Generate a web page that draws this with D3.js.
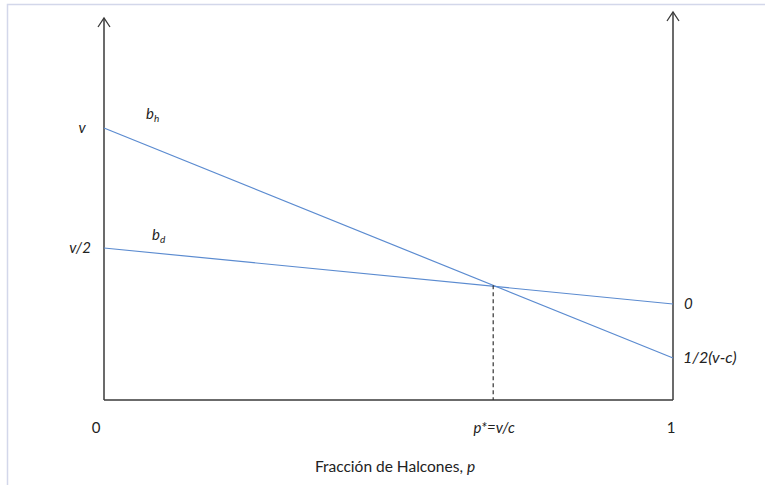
<!DOCTYPE html>
<html>
<head>
<meta charset="utf-8">
<script src="https://cdn.jsdelivr.net/npm/d3@7/dist/d3.min.js"></script>
<style>
  html, body { margin: 0; padding: 0; background: #ffffff; }
  svg { display: block; }
  text { font-family: Lato, "Open Sans", "Liberation Sans", sans-serif; fill: #222; }
</style>
</head>
<body>
<svg id="chart" width="765" height="485"></svg>
<script>
// ---- data (arbitrary payoff units; 0 = horizontal axis) ----
const pValues = [0, 1];              // fraction of hawks at both ends
const hawkPayoff = [6.8, 1.05];      // b_h at p=0 and p=1
const dovePayoff = [3.8, 2.4];       // b_d at p=0 and p=1
const pStar = 0.684;                 // p* = v/c
const leftAxisTop = 9.55;
const rightAxisTop = 9.7;
const leftLabels = ["v", "v/2"];
const rightLabels = ["0", "1/2(v-c)"];
const xTickLabels = ["0", "p*=v/c", "1"];
const xTitle = "Fracción de Halcones, ";
const seriesNames = ["h", "d"];

const svg = d3.select("#chart");
const x = d3.scaleLinear().domain([0, 1]).range([104, 673]);
const y = d3.scaleLinear().domain([0, 10]).range([400, 0]);

// frame border
svg.append("path")
  .attr("d", `M7.5,485 V4.5 H765`)
  .attr("fill", "none").attr("stroke", "#d3d7ea").attr("stroke-width", 1.5);

const axisColor = "#3a3a3a";
const lineColor = "#5b8bd0";

// axes
const axes = svg.append("g").attr("stroke", axisColor).attr("fill", "none").attr("stroke-width", 1.5);
axes.append("line").attr("x1", x(0)).attr("x2", x(1)).attr("y1", y(0)).attr("y2", y(0));
axes.append("line").attr("x1", x(0)).attr("x2", x(0)).attr("y1", y(0)).attr("y2", y(leftAxisTop));
axes.append("line").attr("x1", x(1)).attr("x2", x(1)).attr("y1", y(0)).attr("y2", y(rightAxisTop));
// arrowheads (open chevrons)
[[x(0), y(leftAxisTop)], [x(1), y(rightAxisTop)]].forEach(([ax, ay]) => {
  axes.append("path")
    .attr("d", `M${ax - 6},${ay + 9} L${ax},${ay} L${ax + 6},${ay + 9}`)
    .attr("stroke-width", 1.3);
});

// payoff lines
const line = d3.line().x(d => x(d[0])).y(d => y(d[1]));
[hawkPayoff, dovePayoff].forEach(vals => {
  svg.append("path")
    .datum(pValues.map((p, i) => [p, vals[i]]))
    .attr("d", line)
    .attr("fill", "none")
    .attr("stroke", lineColor)
    .attr("stroke-width", 1.2);
});

// p* dashed line at intersection
const yStar = hawkPayoff[0] + (hawkPayoff[1] - hawkPayoff[0]) * pStar;
svg.append("line")
  .attr("x1", x(pStar)).attr("x2", x(pStar))
  .attr("y1", y(yStar)).attr("y2", y(0))
  .attr("stroke", "#333").attr("stroke-width", 1.2)
  .attr("stroke-dasharray", "4,3");

// left labels
const fs = 15;
svg.append("text").attr("x", 82).attr("y", y(hawkPayoff[0]) + 5)
  .attr("text-anchor", "middle").attr("font-style", "italic").attr("font-size", fs).text(leftLabels[0]);
svg.append("text").attr("x", 80).attr("y", y(dovePayoff[0]) + 5)
  .attr("text-anchor", "middle").attr("font-style", "italic").attr("font-size", fs).text(leftLabels[1]);

// series labels b_h, b_d
const seriesPos = [[146, 119], [152, 240]];
seriesNames.forEach((s, i) => {
  const t = svg.append("text").attr("x", seriesPos[i][0]).attr("y", seriesPos[i][1])
    .attr("font-style", "italic").attr("font-size", fs);
  t.append("tspan").text("b");
  t.append("tspan").attr("dy", 3).attr("font-size", 10).text(s);
});

// right labels
svg.append("text").attr("x", 684).attr("y", y(dovePayoff[1]) + 5)
  .attr("font-style", "italic").attr("font-size", fs).text(rightLabels[0]);
svg.append("text").attr("x", 683).attr("y", y(hawkPayoff[1]) + 5)
  .attr("font-style", "italic").attr("font-size", 16).text(rightLabels[1]);

// x tick labels
const tickX = [0, pStar, 1];
xTickLabels.forEach((lab, i) => {
  svg.append("text")
    .attr("x", i === 0 ? 96 : (i === 2 ? 671 : x(tickX[i]) + 1))
    .attr("y", 433)
    .attr("text-anchor", "middle")
    .attr("font-size", fs)
    .attr("font-style", i === 1 ? "italic" : null)
    .text(lab);
});

// x title
const title = svg.append("text").attr("x", 395).attr("y", 472)
  .attr("text-anchor", "middle").attr("font-size", 15.5);
title.append("tspan").text(xTitle);
title.append("tspan").attr("font-style", "italic").text("p");
</script>
</body>
</html>
